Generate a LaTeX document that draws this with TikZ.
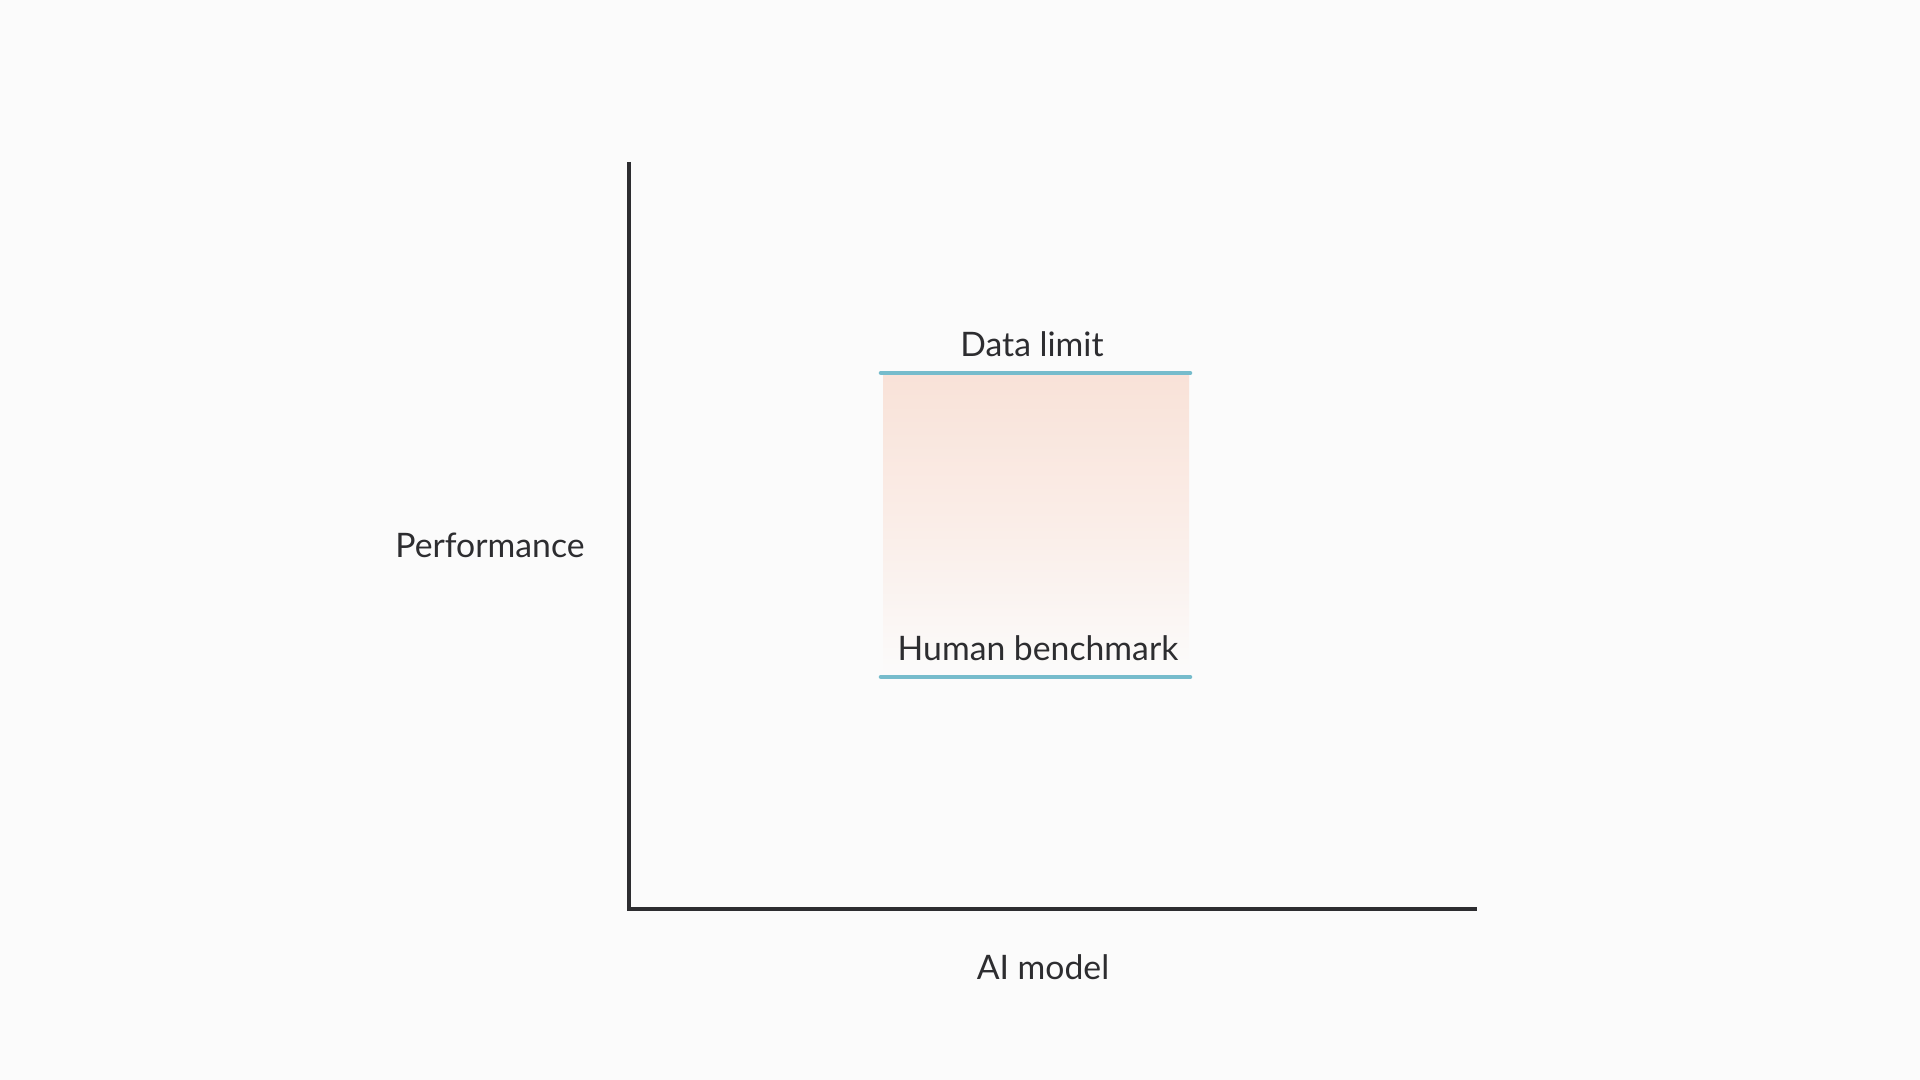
\documentclass[tikz,border=0pt]{standalone}
\usepackage{fontspec}
\setmainfont{Lato}
\definecolor{bgcol}{RGB}{251,251,251}
\definecolor{axiscol}{RGB}{45,45,48}
\definecolor{limitcol}{RGB}{118,188,204}
\definecolor{peach}{RGB}{249,226,216}
\begin{document}
\begin{tikzpicture}[
    axis/.style={draw=axiscol, line width=1.1pt},
    limitline/.style={draw=limitcol, line width=1.3pt, line cap=round},
    lbl/.style={anchor=base, text=axiscol, inner sep=0pt, font=\fontsize{9.6}{11}\selectfont}
  ]
      % Background
      \fill[bgcol] (0,0) rectangle (19.2,10.8);
      \useasboundingbox (0,0) rectangle (19.2,10.8);

      % Shaded region between benchmark and limit
      \shade[top color=peach, bottom color=bgcol, middle color=peach!55!bgcol] (8.83,4.05) rectangle (11.89,7.05);

      % Coordinate axes
      \coordinate (origin) at (6.29,1.71);
      \coordinate (ytop) at (6.29,9.18);
      \coordinate (xend) at (14.77,1.71);
      \draw[axis] (ytop) -- (origin) -- (xend);

      % Horizontal limits
      \coordinate (dataL) at (8.81,7.07);
      \coordinate (dataR) at (11.90,7.07);
      \coordinate (humanL) at (8.81,4.03);
      \coordinate (humanR) at (11.90,4.03);
      \draw[limitline] (dataL) -- (dataR);
      \draw[limitline] (humanL) -- (humanR);

      % Labels
      \node[lbl] (datalabel) at (10.32,7.23) {Data limit};
      \node[lbl] (humanlabel) at (10.38,4.19) {Human benchmark};
      \node[lbl] (ylabel) at (4.90,5.22) {Performance};
      \node[lbl] (xlabel) at (10.43,1.00) {AI model};
    \end{tikzpicture}
\end{document}
